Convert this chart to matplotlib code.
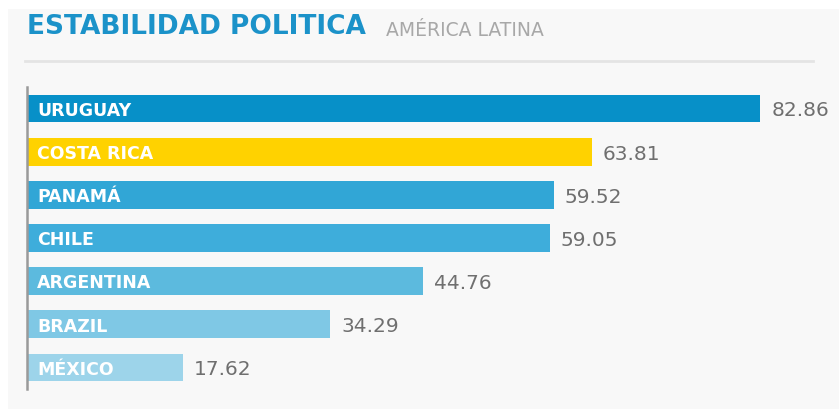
import matplotlib
matplotlib.use("Agg")
import matplotlib.pyplot as plt
from matplotlib.patches import Rectangle
from matplotlib.lines import Line2D

countries = ["URUGUAY", "COSTA RICA", "PANAMÁ", "CHILE", "ARGENTINA", "BRAZIL", "MÉXICO"]
values = [82.86, 63.81, 59.52, 59.05, 44.76, 34.29, 17.62]
value_labels = ["82.86", "63.81", "59.52", "59.05", "44.76", "34.29", "17.62"]
colors = ["#0790c8", "#ffd200", "#31a6d6", "#3eaddb", "#5cbade", "#7fc8e5", "#9dd4ea"]

title = "ESTABILIDAD POLITICA"
subtitle = "AMÉRICA LATINA"

W, H = 839, 410
fig = plt.figure(figsize=(W / 100, H / 100), dpi=100, facecolor="white")

# panel background
fig.patches.append(Rectangle((8 / W, 0), 1 - 8 / W, 1 - 10 / H, transform=fig.transFigure,
                             facecolor="#f8f8f8", edgecolor="none", zorder=-10))
# separator line
fig.lines.append(Line2D([25 / W, 813 / W], [1 - 62 / H, 1 - 62 / H], transform=fig.transFigure,
                        color="#e4e4e4", linewidth=2, zorder=-5))

fig.text(27 / W, 1 - 27.5 / H, title, fontsize=19, fontweight="bold", color="#1b92c9",
         family=["DejaVu Sans"], va="center", ha="left")
fig.text(386 / W, 1 - 31 / H, subtitle, fontsize=13.5, color="#a8a8a8",
         family=["DejaVu Sans"], va="center", ha="left")

ax_left, ax_right = 27, 812
ax_top, ax_bot = 88, 390
ax = fig.add_axes([ax_left / W, 1 - ax_bot / H, (ax_right - ax_left) / W, (ax_bot - ax_top) / H])
ax.set_facecolor("none")
scale = 8.85
ax.set_xlim(0, (ax_right - ax_left) / scale)
n = len(countries)
ax.set_ylim(n - 0.5, -0.5)

ys = list(range(n))
ax.barh(ys, values, height=0.64, color=colors, edgecolor="none")

for y, v, name, lab in zip(ys, values, countries, value_labels):
    ax.text(1.15, y + 0.03, name, color="white", fontsize=12.5, fontweight="bold",
            family=["DejaVu Sans"], va="center", ha="left")
    ax.text(v + 1.25, y + 0.03, lab, color="#6f6f6f", fontsize=14.5,
            family=["DejaVu Sans"], va="center", ha="left")

for s in ["top", "right", "bottom"]:
    ax.spines[s].set_visible(False)
ax.spines["left"].set_color("#9a9a9a")
ax.spines["left"].set_linewidth(1.8)
ax.set_xticks([])
ax.set_yticks([])

fig.savefig("out.png", dpi=100, facecolor=fig.get_facecolor())
